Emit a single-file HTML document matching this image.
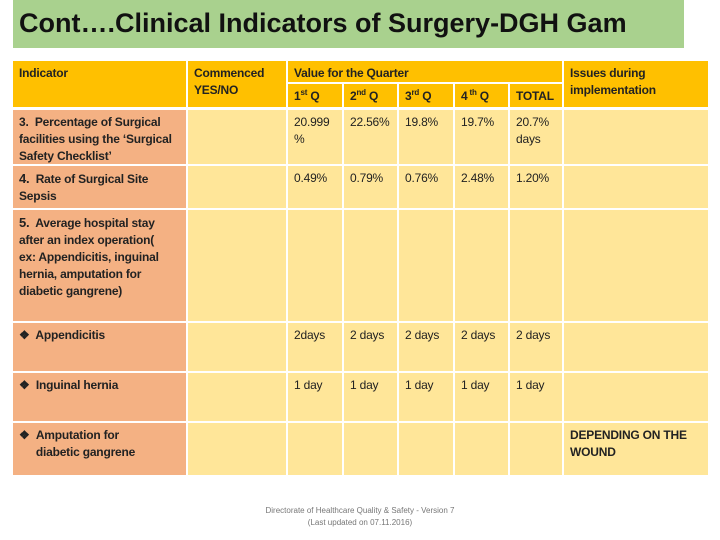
<!DOCTYPE html>
<html><head><meta charset="utf-8"><style>
body{margin:0;width:720px;height:540px;background:#fff;position:relative;overflow:hidden;font-family:"Liberation Sans",sans-serif}
.c{position:absolute;box-sizing:border-box;padding:4px 6px;font-size:12px;line-height:17px;color:#222;white-space:nowrap;letter-spacing:-0.2px}
.h{background:#ffc000;font-weight:bold}
.i{background:#f4b183;font-weight:bold}
.y{background:#ffe699}
sup{font-size:8px;line-height:0}
</style></head><body>
<div style="position:absolute;left:13px;top:0;width:671px;height:48px;background:#a9d18e"></div>
<div style="position:absolute;left:19px;top:8px;font-size:27px;font-weight:bold;color:#111;white-space:nowrap;transform:scaleX(1.0);transform-origin:left">Cont….Clinical Indicators of Surgery-DGH Gam</div>
<div id="t"></div>
<div style="position:absolute;left:230px;top:505px;width:260px;text-align:center;font-size:8px;line-height:12px;color:#777">Directorate of Healthcare Quality &amp; Safety - Version 7<br>(Last updated on 07.11.2016)</div>
<script>
const X=[13,188,288,344,399,455,510,564,708];
const rows=[[110,164],[166,208],[210,321],[323,371],[373,421],[423,475]];
const labels=["3.&nbsp; Percentage of Surgical<br>facilities using the ‘Surgical<br>Safety Checklist’","<span style='font-size:13px'>4.</span>&nbsp; Rate of Surgical Site<br>Sepsis","<span style='font-size:13px'>5.</span>&nbsp; Average hospital stay<br>after an index operation(<br>ex: Appendicitis, inguinal<br>hernia, amputation for<br>diabetic gangrene)","❖&nbsp; Appendicitis","❖&nbsp; Inguinal hernia","<div style='display:flex'><span>❖&nbsp;&nbsp;</span><span>Amputation for<br>diabetic gangrene</span></div>"];
const values=[["20.999<br>%","22.56%","19.8%","19.7%","20.7%<br>days"],["0.49%","0.79%","0.76%","2.48%","1.20%"],["","","","",""],["2days","2 days","2 days","2 days","2 days"],["1 day","1 day","1 day","1 day","1 day"],["","","","",""]];
const issues=["","","","","","DEPENDING ON THE<br>WOUND"];
const t=document.getElementById('t');
function cell(x0,x1,y0,y1,cls,html,name){
 const d=document.createElement('div');d.className='c '+cls;
 d.style.left=x0+'px';d.style.top=y0+'px';d.style.width=(x1-x0)+'px';d.style.height=(y1-y0)+'px';
 d.innerHTML=html;
 
 
 t.appendChild(d);}
cell(X[0],X[1]-2,61,107,'h','Indicator','header-indicator');
cell(X[1],X[2]-2,61,107,'h','Commenced<br>YES/NO','header-commenced');
cell(X[2],X[7]-2,61,82,'h','Value for the Quarter','header-value-quarter');
const q=["1<sup>st</sup> Q","2<sup>nd</sup> Q","3<sup>rd</sup> Q","4<sup> th</sup> Q","TOTAL"];
q.forEach((s,k)=>cell(X[2+k],X[3+k]-2,84,107,'h',s,'header-q'+(k+1)));
cell(X[7],X[8],61,107,'h','Issues during<br>implementation','header-issues');
rows.forEach((r,i)=>{
 cell(X[0],X[1]-2,r[0],r[1],'i',labels[i],'indicator-row-'+(i+1));
 cell(X[1],X[2]-2,r[0],r[1],'y','','commenced-row-'+(i+1));
 values[i].forEach((v,k)=>cell(X[2+k],X[3+k]-2,r[0],r[1],'y',v,'value-row-'+(i+1)+'-q'+(k+1)));
 cell(X[7],X[8],r[0],r[1],'y',issues[i]?'<b>'+issues[i]+'</b>':'','issues-row-'+(i+1));
});
</script>
</body></html>
